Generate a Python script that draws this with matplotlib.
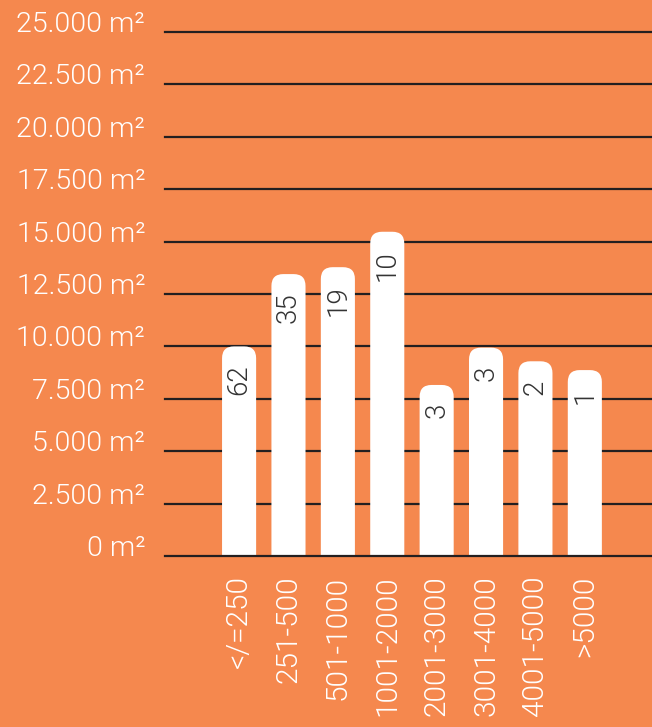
import matplotlib; matplotlib.use("Agg")
import matplotlib.pyplot as plt
from matplotlib.patches import FancyBboxPatch

categories = ["</=250", "251-500", "501-1000", "1001-2000", "2001-3000", "3001-4000", "4001-5000", ">5000"]
area = [10000, 13450, 13780, 15470, 8160, 9940, 9290, 8870]
counts = [62, 35, 19, 10, 3, 3, 2, 1]
yticks = [0, 2500, 5000, 7500, 10000, 12500, 15000, 17500, 20000, 22500, 25000]
ytick_labels = ["0 m²", "2.500 m²", "5.000 m²", "7.500 m²", "10.000 m²", "12.500 m²",
                "15.000 m²", "17.500 m²", "20.000 m²", "22.500 m²", "25.000 m²"]

bg = "#F5884E"
line = "#231F20"
plt.rcParams["font.family"] = ["Roboto", "DejaVu Sans"]
fw = 300

fig = plt.figure(figsize=(6.52, 7.27), dpi=100, facecolor=bg)
ax = fig.add_axes([165/652, 171/727, 487/652, 524/727])
ax.set_facecolor(bg)
for s in ax.spines.values():
    s.set_visible(False)
ax.set_xlim(-1.5, 8.36)
ax.set_ylim(0, 25000)

# gridlines + labels
for y, lab in zip(yticks, ytick_labels):
    ax.axhline(y, color=line, lw=1.6, zorder=3 if y == 0 else 1, clip_on=False)
    ax.text(-0.041, y, lab, transform=ax.get_yaxis_transform(),
            ha="right", va="baseline", color="white", fontsize=20.5, fontweight=fw)
ax.set_yticks([])

# bars with rounded tops
x = list(range(len(categories)))
bars = ax.bar(x, area, width=0.69, color="white", zorder=2)
asp = (25000/524) / (1/49.3)
for b in bars:
    b.set_visible(False)
    p = FancyBboxPatch((b.get_x(), -1000), b.get_width(), b.get_height() + 1000,
                       boxstyle="round,pad=0,rounding_size=0.24", mutation_aspect=asp,
                       fc="white", ec="none", zorder=2)
    ax.add_patch(p)

for xi, h, c in zip(x, area, counts):
    ax.annotate(str(c), (xi, h), xytext=(0, -13), textcoords="offset points",
                rotation=90, ha="center", va="top", color="#333333", fontsize=20,
                fontweight=fw, zorder=4)

ax.set_xticks(x)
ax.set_xticklabels(categories, rotation=90, color="white", fontsize=21.5,
                   fontweight=fw, va="top", ha="center")
ax.tick_params(axis="x", length=0, pad=14)

fig.savefig("out.png", dpi=100, facecolor=bg)
